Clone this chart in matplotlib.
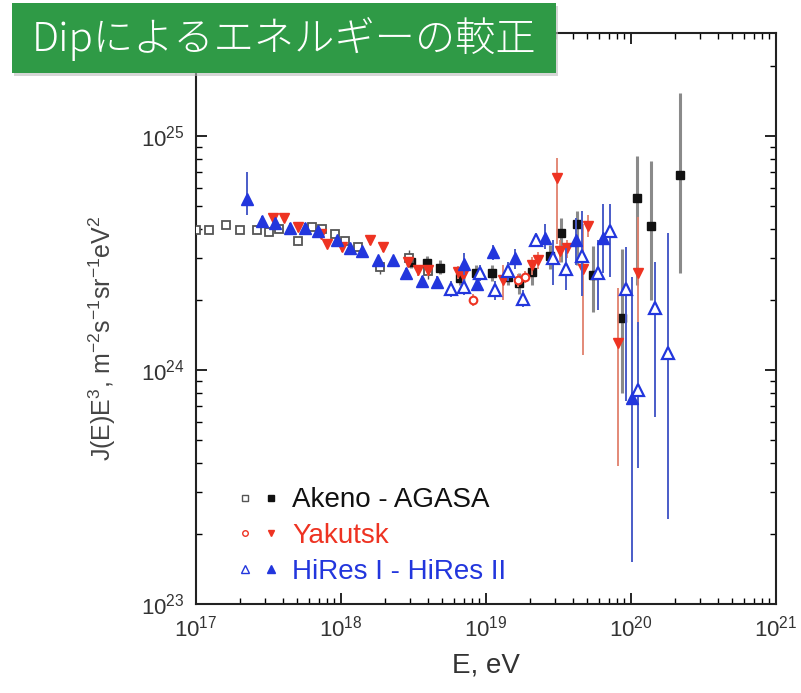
import numpy as np
import matplotlib
matplotlib.use("Agg")
import matplotlib.pyplot as plt
from matplotlib.lines import Line2D
from matplotlib.patches import Rectangle
from matplotlib.legend_handler import HandlerTuple

plt.rcParams['font.family'] = ['Liberation Sans', 'Noto Sans CJK JP', 'DejaVu Sans']
plt.rcParams['mathtext.fontset'] = 'custom'
plt.rcParams['mathtext.rm'] = 'Liberation Sans'
plt.rcParams['mathtext.it'] = 'Liberation Sans'

# ---- data (log10 E in eV, J*E^3 in units of 1e24) ----
# Akeno (open squares)
akeno_lgE = [17.0, 17.09, 17.21, 17.30, 17.42, 17.50, 17.57, 17.70, 17.80, 17.87,
             17.96, 18.03, 18.12, 18.27, 18.47, 18.60]
akeno_J = [3.95, 3.95, 4.15, 3.95, 3.95, 3.9, 4.0, 3.55, 4.1, 4.0,
           3.8, 3.55, 3.35, 2.75, 3.0, 2.65]
akeno_err = [0.1, 0.1, 0.1, 0.1, 0.1, 0.1, 0.1, 0.12, 0.12, 0.12,
             0.12, 0.12, 0.14, 0.18, 0.25, 0.2]

# AGASA (filled squares)
agasa_lgE = [18.48, 18.59, 18.68, 18.82, 18.93, 19.04, 19.15, 19.23, 19.32, 19.44,
             19.52, 19.63, 19.74, 19.94, 20.04, 20.14, 20.34]
agasa_J = [2.88, 2.86, 2.74, 2.48, 2.6, 2.59, 2.5, 2.35, 2.61, 3.08,
           3.86, 4.22, 2.54, 1.66, 5.45, 4.14, 6.82]
agasa_lo = [2.72, 2.7, 2.58, 2.3, 2.42, 2.4, 2.3, 2.12, 2.3, 2.7,
            2.9, 2.8, 1.77, 0.8, 2.3, 1.99, 2.59]
agasa_hi = [3.08, 3.06, 2.94, 2.7, 2.82, 2.82, 2.72, 2.6, 2.95, 3.42,
            4.45, 4.8, 3.4, 3.3, 8.2, 7.8, 15.2]

# Yakutsk (filled)
yak_lgE = [17.53, 17.61, 17.70, 17.86, 17.90, 18.01, 18.20, 18.29, 18.46, 18.53,
           18.60, 18.81, 18.84, 19.12, 19.32, 19.36, 19.49, 19.51, 19.56, 19.67,
           19.70, 19.91, 20.05]
yak_J = [4.48, 4.48, 4.07, 3.83, 3.47, 3.34, 3.58, 3.34, 2.89, 2.67,
         2.67, 2.61, 2.54, 2.42, 2.80, 2.94, 6.6, 3.24, 3.31, 2.7,
         4.14, 1.31, 2.59]
yak_lo = [4.3, 4.3, 3.9, 3.67, 3.32, 3.2, 3.42, 3.18, 2.75, 2.52,
          2.52, 2.45, 2.38, 2.0, 2.55, 2.7, 3.47, 2.9, 3.0, 1.16,
          3.7, 0.39, 1.4]
yak_hi = [4.66, 4.66, 4.24, 4.0, 3.62, 3.5, 3.75, 3.5, 3.05, 2.82,
          2.82, 2.78, 2.7, 2.8, 3.05, 3.2, 8.05, 3.6, 3.6, 4.2,
          4.6, 2.23, 4.5]

# Yakutsk (open)
yako_lgE = [18.91, 19.22, 19.27]
yako_J = [1.99, 2.42, 2.5]
yako_err = [0.12, 0.15, 0.15]

# HiRes II (filled triangles)
hr2_lgE = [17.35, 17.455, 17.545, 17.65, 17.75, 17.84, 17.97, 18.06, 18.145, 18.255,
           18.36, 18.45, 18.56, 18.66, 18.85, 18.94, 19.05, 19.20, 19.41, 19.62,
           19.81, 20.01]
hr2_J = [5.40, 4.35, 4.26, 4.06, 4.06, 3.94, 3.58, 3.31, 3.24, 2.94,
         2.94, 2.59, 2.39, 2.37, 2.83, 2.34, 3.18, 3.00, 3.65, 3.58,
         3.65, 0.76]
hr2_lo = [4.6, 4.15, 4.08, 3.9, 3.9, 3.78, 3.43, 3.17, 3.1, 2.8,
          2.8, 2.46, 2.26, 2.23, 2.55, 2.18, 2.95, 2.7, 3.3, 2.8,
          2.6, 0.151]
hr2_hi = [7.0, 4.55, 4.45, 4.24, 4.24, 4.1, 3.74, 3.46, 3.39, 3.08,
          3.08, 2.73, 2.53, 2.52, 3.15, 2.52, 3.42, 3.3, 4.2, 4.45,
          5.1, 2.49]

# HiRes I (open triangles)
hr1_lgE = [18.76, 18.85, 18.96, 19.06, 19.15, 19.255, 19.345, 19.46, 19.55, 19.66,
           19.77, 19.855, 19.965, 20.05, 20.165, 20.255]
hr1_J = [2.21, 2.26, 2.59, 2.19, 2.64, 2.02, 3.58, 3.00, 2.69, 3.08,
         2.59, 3.94, 2.21, 0.82, 1.84, 1.18]
hr1_lo = [2.05, 2.1, 2.4, 2.0, 2.4, 1.85, 3.35, 2.30, 2.19, 2.08,
          1.80, 2.49, 0.74, 0.38, 0.63, 0.23]
hr1_hi = [2.4, 2.45, 2.8, 2.4, 2.9, 2.2, 3.85, 3.58, 3.33, 4.80,
          3.58, 5.14, 3.34, 1.60, 2.88, 3.86]

legend_labels = ['Akeno - AGASA', 'Yakutsk', 'HiRes I - HiRes II']
title = 'Dipによるエネルギーの較正'

BLACK = '#111111'
RED = '#ee3322'
BLUE = '#2236dd'


def bars(lgE, J, lo, hi):
    E = 10 ** np.array(lgE)
    J = np.array(J) * 1e24
    lo = np.array(lo) * 1e24
    hi = np.array(hi) * 1e24
    return E, J, [J - lo, hi - J]


fig = plt.figure(figsize=(8.01, 6.93), dpi=100)
ax = fig.add_axes([0.2447, 0.1284, 0.7241, 0.8240])

# AGASA / Akeno
E, J, err = bars(agasa_lgE, agasa_J, agasa_lo, agasa_hi)
ax.errorbar(E, J, yerr=err, fmt='s', ms=6, color=BLACK, ecolor='#8a8a8a',
            elinewidth=2.2, capsize=0, zorder=3)
E, J, err = bars(akeno_lgE, akeno_J, np.array(akeno_J) - np.array(akeno_err),
                 np.array(akeno_J) + np.array(akeno_err))
ax.errorbar(E, J, yerr=err, fmt='s', ms=5.5, mfc='white', mec='#555555', mew=1.3,
            ecolor='#555555', elinewidth=1, capsize=0, zorder=3)

# Yakutsk
E, J, err = bars(yak_lgE, yak_J, yak_lo, yak_hi)
ax.errorbar(E, J, yerr=err, fmt='v', ms=6.5, color=RED, ecolor='#e0806c',
            elinewidth=1.3, capsize=0, zorder=4)
E, J, err = bars(yako_lgE, yako_J, np.array(yako_J) - np.array(yako_err),
                 np.array(yako_J) + np.array(yako_err))
ax.errorbar(E, J, yerr=err, fmt='o', ms=5.5, mfc='white', mec=RED, mew=1.5,
            ecolor='#e0806c', elinewidth=1.3, capsize=0, zorder=4)

# HiRes
E, J, err = bars(hr2_lgE, hr2_J, hr2_lo, hr2_hi)
ax.errorbar(E, J, yerr=err, fmt='^', ms=9, color=BLUE, ecolor='#4a5cc8',
            elinewidth=1.4, capsize=0, zorder=5)
E, J, err = bars(hr1_lgE, hr1_J, hr1_lo, hr1_hi)
ax.errorbar(E, J, yerr=err, fmt='^', ms=9, mfc='white', mec=BLUE, mew=1.6,
            ecolor='#4a5cc8', elinewidth=1.4, capsize=0, zorder=5)

ax.set_xscale('log')
ax.set_yscale('log')
ax.set_xlim(1e17, 1e21)
ax.set_ylim(1e23, 10 ** 25.44)

ax.tick_params(which='both', direction='in', top=True, right=True, labelsize=16,
               labelcolor='#333333')
ax.tick_params(which='major', length=8, width=1.2)
ax.tick_params(which='minor', length=4, width=1)
ax.tick_params(axis='x', pad=8)
ax.tick_params(axis='y', pad=8)
for s in ax.spines.values():
    s.set_linewidth(1.5)
    s.set_color('#222222')

ax.set_xlabel('E, eV', fontsize=20, labelpad=8, color='#333333')
ax.set_ylabel('J(E)E$^3$, m$^{-2}$s$^{-1}$sr$^{-1}$eV$^2$', fontsize=18,
              color='#444444')
ax.yaxis.set_label_coords(-0.135, 0.465)

# legend with open/filled pairs
handles = [
    (Line2D([], [], ls='', marker='s', ms=5, mfc='white', mec='#555555'),
     Line2D([], [], ls='', marker='s', ms=5, color=BLACK)),
    (Line2D([], [], ls='', marker='o', ms=4, mfc='white', mec=RED),
     Line2D([], [], ls='', marker='v', ms=5, color=RED)),
    (Line2D([], [], ls='', marker='^', ms=6, mfc='white', mec=BLUE),
     Line2D([], [], ls='', marker='^', ms=6, color=BLUE)),
]
ax.legend(handles, legend_labels, handler_map={tuple: HandlerTuple(ndivide=None, pad=0.3)},
          loc='lower left', bbox_to_anchor=(0.025, -0.01), frameon=False, fontsize=20,
          labelcolor=[BLACK, RED, BLUE], handlelength=1.6, handletextpad=0.45,
          labelspacing=0.35)

# green title banner
fig.patches.append(Rectangle((0.018, 0.890), 0.679, 0.101, transform=fig.transFigure,
                             facecolor='#bbbbbb', edgecolor='none', alpha=0.6, zorder=9))
fig.patches.append(Rectangle((0.015, 0.894), 0.679, 0.101, transform=fig.transFigure,
                             facecolor='#2f9a46', edgecolor='none', zorder=10))
fig.text(0.355, 0.943, title, color='white', fontsize=29, fontweight='light',
         ha='center', va='center', family=['Noto Sans CJK JP', 'DejaVu Sans'], zorder=11)

fig.savefig('out.png', dpi=100)
